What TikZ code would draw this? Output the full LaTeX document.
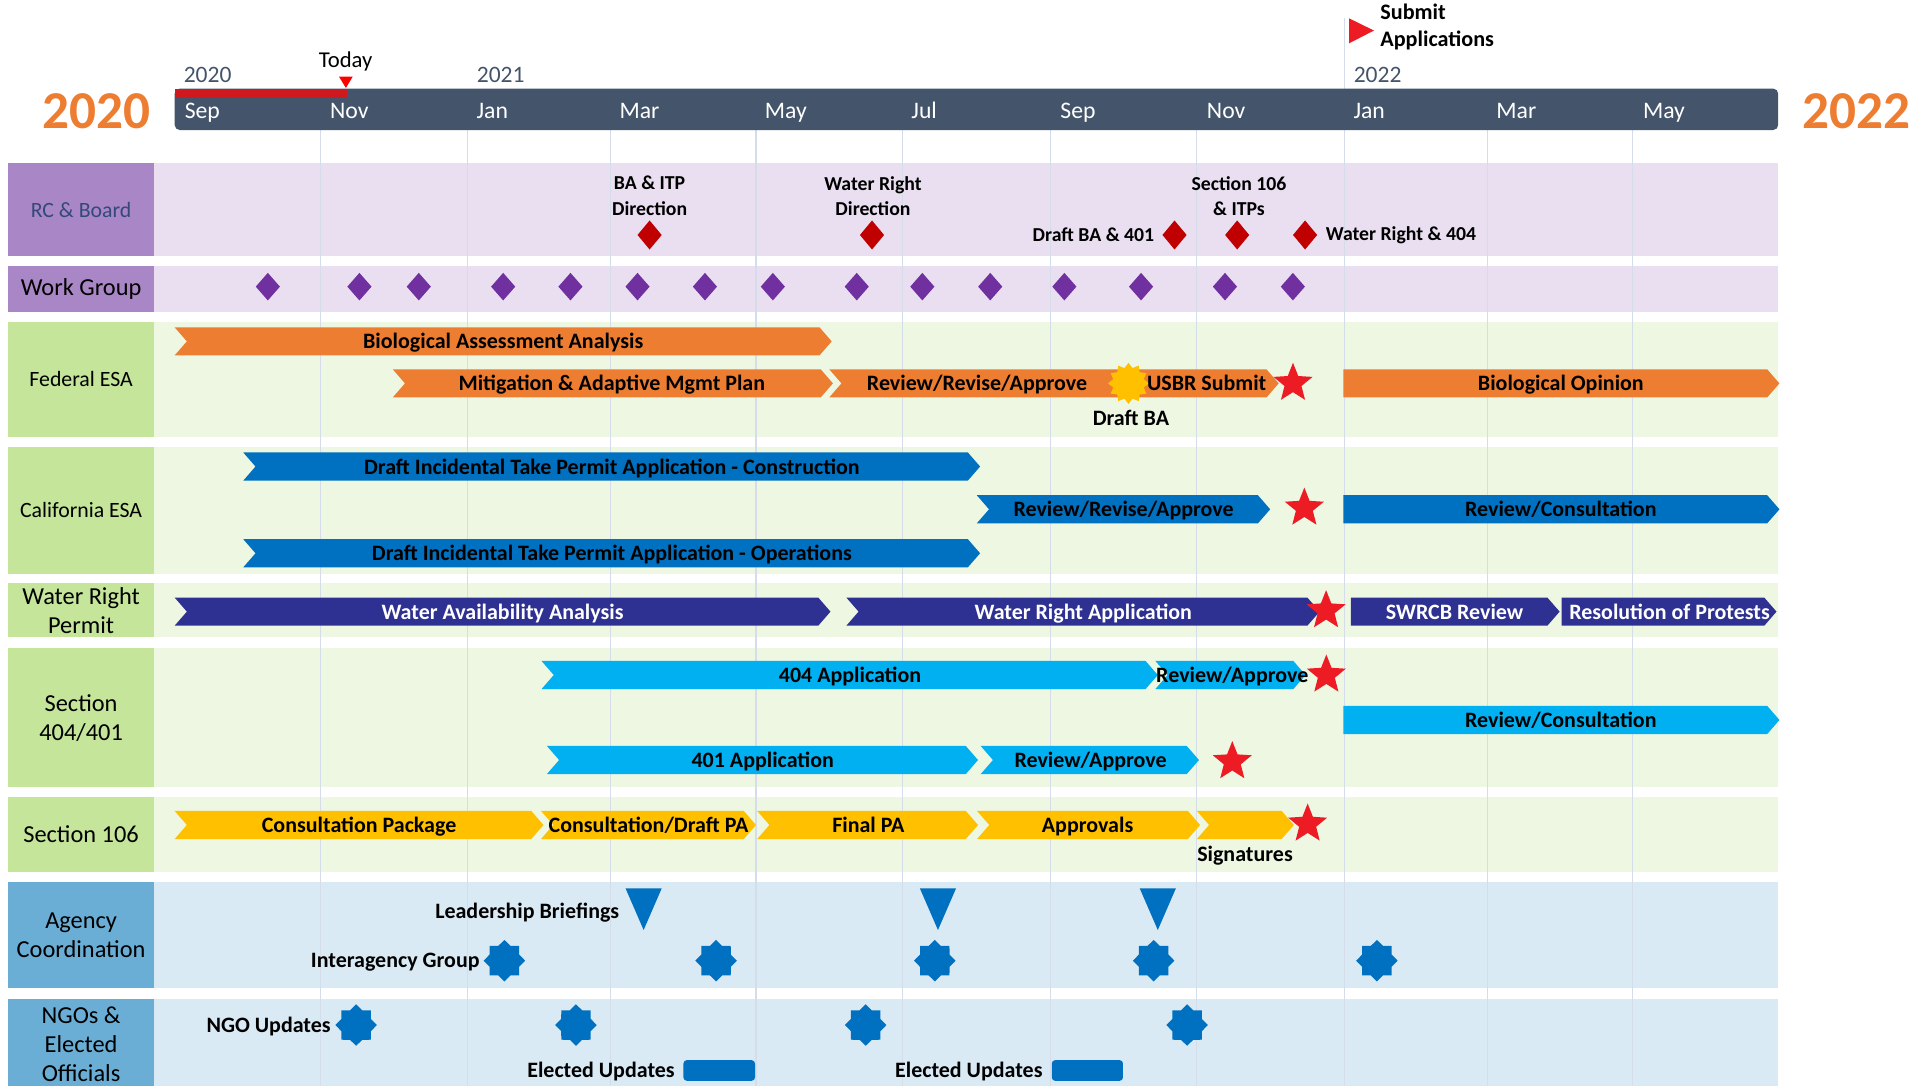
\documentclass[tikz,border=0pt]{standalone}
\usepackage{fontspec}
\setmainfont{Carlito}
\usetikzlibrary{shapes.geometric}

\definecolor{hdrgray}{HTML}{44546A}
\definecolor{orng}{HTML}{ED7D31}
\definecolor{dkblue}{HTML}{0070C0}
\definecolor{indigo}{HTML}{2E3192}
\definecolor{cyanbar}{HTML}{00B0F0}
\definecolor{goldbar}{HTML}{FFC000}
\definecolor{starred}{HTML}{ED1C24}
\definecolor{todayred}{HTML}{D0181F}
\definecolor{dkred}{HTML}{C00000}
\definecolor{purp}{HTML}{7030A0}
\definecolor{lablav}{HTML}{A986C5}
\definecolor{bandlav}{HTML}{E9DFF0}
\definecolor{labgreen}{HTML}{C4E59A}
\definecolor{bandgreen}{HTML}{EEF7E2}
\definecolor{labblue}{HTML}{6AAED6}
\definecolor{bandblue}{HTML}{D9EAF5}
\definecolor{gridc}{HTML}{D5DDEB}
\definecolor{rcblue}{HTML}{34497A}

% task bars: x start, x end, y middle, colour
\newcommand{\chevbar}[4]{\fill[#4] (#1,#3-11.5) -- (#2-10,#3-11.5) -- (#2,#3) -- (#2-10,#3+11.5) -- (#1,#3+11.5) -- (#1+10,#3) -- cycle;}
\newcommand{\flatbar}[4]{\fill[#4] (#1,#3-11.5) -- (#2-10,#3-11.5) -- (#2,#3) -- (#2-10,#3+11.5) -- (#1,#3+11.5) -- cycle;}
% row: top, bottom, label colour, band colour
\newcommand{\rowband}[4]{\fill[#3] (6.2,#1) rectangle (126.5,#2); \fill[#4] (126.5,#1) rectangle (1456,#2);}
% briefing triangle
\newcommand{\brief}[1]{\fill[dkblue] (#1-14.8,727.4) -- (#1+14.8,727.4) -- (#1,761.5) -- cycle;}

\begin{document}
\begin{tikzpicture}[x=0.025cm,y=-0.025cm]
\tikzstyle{every node}+=[inner sep=0pt]
\tikzset{
 barlab/.style={font=\bfseries\fontsize{12.8}{14}\selectfont,text height=10.2pt,text depth=1.4pt},
 rowlab/.style={font=\fontsize{14.2}{17}\selectfont,align=center},
 rowsmall/.style={font=\fontsize{12.7}{15}\selectfont,align=center},
 mslab/.style={font=\bfseries\fontsize{11.5}{14.6}\selectfont,align=center},
 evlab/.style={font=\bfseries\fontsize{12.8}{14}\selectfont,text height=9.6pt,text depth=1.4pt},
 monthlab/.style={font=\fontsize{13.8}{15}\selectfont,text=white,anchor=west,text height=11.7pt,text depth=1.5pt},
 yrlab/.style={font=\fontsize{13.7}{15}\selectfont,text=hdrgray},
 bigyr/.style={font=\bfseries\fontsize{31}{34}\selectfont,text=orng},
 msred/.style={diamond,fill=dkred,minimum width=0.5cm,minimum height=0.6cm},
 mspurp/.style={diamond,fill=purp,minimum width=0.5cm,minimum height=0.57cm},
 donestar/.style={star,star points=5,star point ratio=2.3,fill=starred,minimum size=0.84cm},
 meetstar/.style={star,star points=8,star point ratio=1.3,fill=dkblue,minimum size=0.85cm},
 sunburst/.style={star,star points=12,star point ratio=1.3,fill=goldbar,minimum size=0.84cm}
}
\useasboundingbox (0,0) rectangle (1568,889);

% rows
\rowband{133.7}{209.6}{lablav}{bandlav}
\rowband{217.5}{255.2}{lablav}{bandlav}
\rowband{263.4}{357.5}{labgreen}{bandgreen}
\rowband{365.7}{470}{labgreen}{bandgreen}
\rowband{477.6}{521.8}{labgreen}{bandgreen}
\rowband{530.9}{644.7}{labgreen}{bandgreen}
\rowband{652.9}{713.7}{labgreen}{bandgreen}
\rowband{722.4}{808.7}{labblue}{bandblue}
\rowband{818}{889}{labblue}{bandblue}

% month grid
\foreach \x in {262.5,382.5,500,619,739,860,980,1218,1337}
  \draw[gridc,line width=0.6pt] (\x,106.5) -- (\x,889);
\draw[gridc,line width=0.6pt] (1100.5,15) -- (1100.5,889);

% timeline header
\node[bigyr] (y2020) at (79,91) {2020};
\node[bigyr] (y2022) at (1520,91) {2022};
\fill[hdrgray,rounded corners=3pt] (143,72.5) rectangle (1456,106.5);
\fill[todayred] (143,72.5) rectangle (284.4,80);
\foreach \x/\m in {151/Sep,270/Nov,390/Jan,507/Mar,626/May,746/Jul,868/Sep,988/Nov,1108/Jan,1225/Mar,1345/May}
  \node[monthlab] (m\x) at (\x,90) {\m};
\node[yrlab] (yr20) at (170,61.4) {2020};
\node[yrlab] (yr21) at (410,61.4) {2021};
\node[yrlab] (yr22) at (1128,61.4) {2022};
\fill[red] (277.6,62.8) -- (288.8,62.8) -- (283.2,72) -- cycle;
\node[font=\fontsize{13.2}{15}\selectfont] (today) at (283,50.5) {Today};
\fill[starred] (1104.6,15) -- (1125,25) -- (1104.6,35.5) -- cycle;
\node[font=\bfseries\fontsize{12.9}{15.4}\selectfont,align=left,anchor=west] (submit) at (1130,22) {Submit\\Applications};

% RC & Board
\node[rowsmall,text=rcblue] (rcb) at (66.4,171.6) {RC \& Board};
\node[msred] (ms1) at (531.9,192.4) {};
\node[mslab] (ms1t) at (531.9,160.3) {BA \& ITP\\Direction};
\node[msred] (ms2) at (714,192.4) {};
\node[mslab] (ms2t) at (714.8,160.3) {Water Right\\Direction};
\node[msred] (ms3) at (961.7,192.4) {};
\node[mslab,anchor=east] (ms3t) at (945.3,192.4) {Draft BA \& 401};
\node[msred] (ms4) at (1013,192.4) {};
\node[mslab] (ms4t) at (1014.5,160.3) {Section 106\\\& ITPs};
\node[msred] (ms5) at (1068.6,192.4) {};
\node[mslab,anchor=west] (ms5t) at (1085.3,192.4) {Water Right \& 404};

% Work Group
\node[rowlab] (wg) at (66.4,236.4) {Work Group};
\foreach \x in {219.3,294.3,342.9,412,467.1,522,577.2,632.8,701.5,755.2,810.8,871.5,934.3,1003,1058.6}
  \node[mspurp] (wg\x) at (\x,234.7) {};

% Federal ESA
\node[rowsmall] (fed) at (66.4,310.5) {Federal ESA};
\chevbar{143}{681}{279.5}{orng}
\node[barlab] (bioa) at (412,279.5) {Biological Assessment Analysis};
\chevbar{321.6}{682}{313.9}{orng}
\node[barlab] (mitig) at (501,313.9) {Mitigation \& Adaptive Mgmt Plan};
\chevbar{679}{1047}{313.9}{orng}
\node[barlab] (fedrev) at (800,313.9) {Review/Revise/Approve};
\node[sunburst] (draftba) at (924,313.9) {};
\node[barlab] (usbr) at (988,313.9) {USBR Submit};
\node[evlab] (draftbat) at (926,342.5) {Draft BA};
\node[donestar] (fedstar) at (1058.7,313.8) {};
\flatbar{1100}{1457}{313.9}{orng}
\node[barlab] (biop) at (1278,313.9) {Biological Opinion};

% California ESA
\node[rowsmall] (cal) at (66.4,417.9) {California ESA};
\chevbar{199.2}{802.5}{382}{dkblue}
\node[barlab] (itpc) at (501,382) {Draft Incidental Take Permit Application - Construction};
\chevbar{799.8}{1040}{417}{dkblue}
\node[barlab] (calrev) at (920,417) {Review/Revise/Approve};
\node[donestar] (calstar) at (1068,416) {};
\flatbar{1100}{1457}{417}{dkblue}
\node[barlab] (calcons) at (1278,417) {Review/Consultation};
\chevbar{199.2}{802.5}{453}{dkblue}
\node[barlab] (itpo) at (501,453) {Draft Incidental Take Permit Application - Operations};

% Water Right Permit
\node[rowlab] (wr) at (66.4,499.7) {Water Right\\Permit};
\chevbar{143}{680}{500.8}{indigo}
\node[barlab,text=white] (wavail) at (411.5,500.8) {Water Availability Analysis};
\chevbar{693}{1080.5}{500.8}{indigo}
\node[barlab,text=white] (wrapp) at (887,500.8) {Water Right Application};
\node[donestar] (wrstar) at (1085.8,500) {};
\flatbar{1106}{1277}{500.8}{indigo}
\node[barlab,text=white] (swrcb) at (1191,500.8) {SWRCB Review};
\flatbar{1278.7}{1454.6}{500.8}{indigo}
\node[barlab,text=white] (protest) at (1367,500.8) {Resolution of Protests};

% Section 404/401
\node[rowlab] (s404) at (66.4,587.8) {Section\\404/401};
\chevbar{443.4}{948}{552.7}{cyanbar}
\node[barlab] (app404) at (696,552.7) {404 Application};
\chevbar{946}{1069}{552.7}{cyanbar}
\node[barlab] (rev404) at (1009,552.7) {Review/Approve};
\node[donestar] (star404) at (1086,552.7) {};
\flatbar{1100}{1457}{589.5}{cyanbar}
\node[barlab] (cons404) at (1278,589.5) {Review/Consultation};
\chevbar{447.8}{800.8}{622.3}{cyanbar}
\node[barlab] (app401) at (624.5,622.3) {401 Application};
\chevbar{803}{981.7}{622.3}{cyanbar}
\node[barlab] (rev401) at (893,622.3) {Review/Approve};
\node[donestar] (star401) at (1009,623.6) {};

% Section 106
\node[rowlab] (s106) at (66.4,683.3) {Section 106};
\chevbar{143}{445}{675.5}{goldbar}
\node[barlab] (cpkg) at (294,675.5) {Consultation Package};
\chevbar{443}{619}{675.5}{goldbar}
\node[barlab] (cdpa) at (531,675.5) {Consultation/Draft PA};
\chevbar{620}{800.8}{675.5}{goldbar}
\node[barlab] (fpa) at (711,675.5) {Final PA};
\chevbar{800}{982.6}{675.5}{goldbar}
\node[barlab] (appr) at (890.5,675.5) {Approvals};
\chevbar{980}{1059.4}{675.5}{goldbar}
\node[donestar] (star106) at (1070.7,674.7) {};
\node[evlab] (sig) at (1019.4,699.5) {Signatures};

% Agency Coordination
\node[rowlab] (agc) at (66.4,765.5) {Agency\\Coordination};
\brief{527}
\brief{768}
\brief{948}
\node[evlab,anchor=east] (lbt) at (507.3,746.5) {Leadership Briefings};
\foreach \x in {413,586.3,765.4,944.6,1127.4}
  \node[meetstar] (ig\x) at (\x,786.6) {};
\node[evlab,anchor=east] (igt) at (393,786.6) {Interagency Group};

% NGOs & Elected Officials
\node[rowlab] (ngo) at (66.4,855) {NGOs \&\\Elected\\Officials};
\foreach \x in {291.6,471.6,708.8,972}
  \node[meetstar] (ngo\x) at (\x,839.3) {};
\node[evlab,anchor=east] (ngot) at (271,839.3) {NGO Updates};
\fill[dkblue,rounded corners=2pt] (559.6,868) rectangle (618.2,885);
\fill[dkblue,rounded corners=2pt] (861.2,868) rectangle (919.5,885);
\node[evlab,anchor=east] (elt1) at (552.7,876.7) {Elected Updates};
\node[evlab,anchor=east] (elt2) at (853.9,876.7) {Elected Updates};
\end{tikzpicture}
\end{document}
